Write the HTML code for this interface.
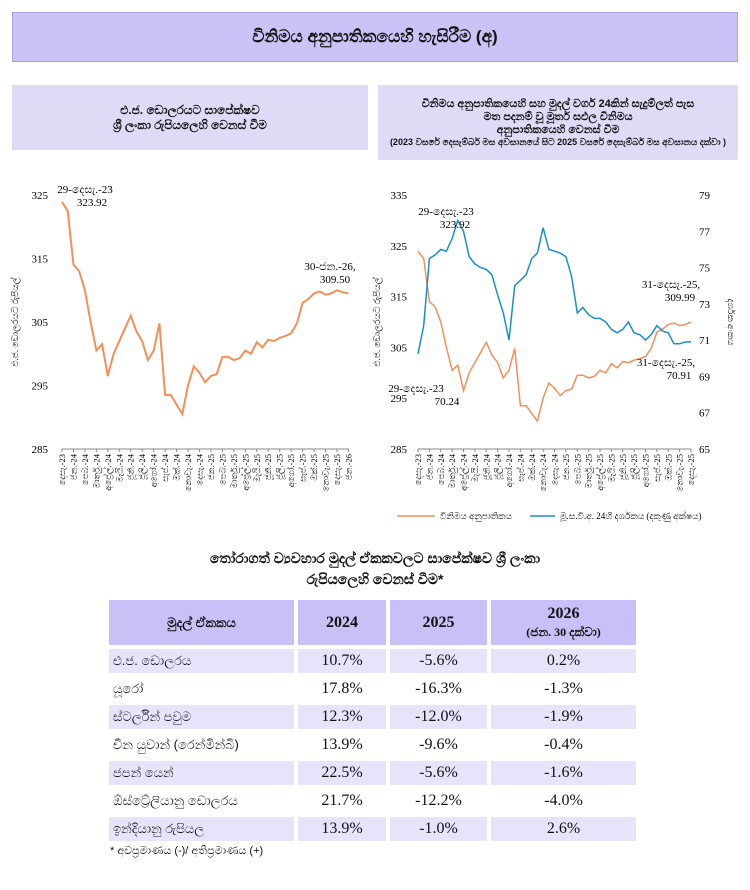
<!DOCTYPE html>
<html><head><meta charset="utf-8">
<style>
body{margin:0;width:750px;height:890px;background:#fff;font-family:"Liberation Serif","DejaVu Serif",serif;color:#111;position:relative;overflow:hidden}
.abs{position:absolute}
.banner{left:12px;top:12px;width:724px;height:48px;background:#c9c3f6;border:1px solid #a9a3dc;display:flex;align-items:center;justify-content:center;font-weight:bold;font-size:17px;font-family:"Liberation Sans","DejaVu Sans",sans-serif}
.hbox{background:#dddbf6;display:flex;flex-direction:column;align-items:center;justify-content:center;text-align:center;font-weight:bold;font-family:"Liberation Sans","DejaVu Sans",sans-serif}
table{border-collapse:separate;border-spacing:4px 4px;font-size:16px;table-layout:fixed}
td,th{padding:0 4px;box-sizing:border-box}
th{background:#c7c1f7;height:45px;font-size:16px}
tr.alt td{background:#e6e4fb}
td{height:24px;text-align:center}
td.n{text-align:left;font-family:"Liberation Sans","DejaVu Sans",sans-serif;font-size:13px}
svg text{font-family:"Liberation Serif","DejaVu Serif",serif}
</style></head><body>
<div class="abs banner">විනිමය අනුපාතිකයෙහි හැසිරීම (අ)</div>
<div class="abs hbox" style="left:12px;top:85px;width:356px;height:65px;font-size:12px"><div>එ.ජ. ඩොලරයට සාපේක්ෂව</div><div>ශ්‍රී ලංකා රුපියලෙහි වෙනස් වීම</div></div>
<div class="abs hbox" style="left:378px;top:85px;width:360px;height:75px;font-size:11px"><div>විනිමය අනුපාතිකයෙහි සහ මුදල් වර්ග 24කින් සැදුම්ලත් පැස</div><div>මත පදනම් වූ මූර්ත සඵල විනිමය</div><div>අනුපාතිකයෙහි වෙනස් වීම</div><div style="font-size:9px">(2023 වසරේ දෙසැම්බර් මස අවසානයේ සිට 2025 වසරේ දෙසැම්බර් මස අවසානය දක්වා )</div></div>

<svg id="chart" class="abs" style="left:0;top:160px" width="750" height="370"></svg>

<div class="abs" style="left:0;top:548px;width:750px;text-align:center;font-weight:bold;font-size:14px;line-height:21px;font-family:'Liberation Sans','DejaVu Sans',sans-serif">තෝරාගත් ව්‍යවහාර මුදල් ඒකකවලට සාපේක්ෂව ශ්‍රී ලංකා<br>රුපියලෙහි වෙනස් වීම*</div>
<table class="abs" style="left:105px;top:596px;width:535px">
<colgroup><col style="width:185px"><col style="width:88px"><col style="width:97px"><col style="width:145px"></colgroup>
<tr><th style="font-family:'Liberation Sans',sans-serif;font-size:13px">මුදල් ඒකකය</th><th>2024</th><th>2025</th><th>2026<br><span style="font-size:12px">(ජන. 30 දක්වා)</span></th></tr>
<tr class="alt"><td class="n">එ.ජ. ඩොලරය</td><td>10.7%</td><td>-5.6%</td><td>0.2%</td></tr>
<tr><td class="n">යූරෝ</td><td>17.8%</td><td>-16.3%</td><td>-1.3%</td></tr>
<tr class="alt"><td class="n">ස්ටර්ලින් පවුම</td><td>12.3%</td><td>-12.0%</td><td>-1.9%</td></tr>
<tr><td class="n">චීන යුවාන් (රෙන්මින්බි)</td><td>13.9%</td><td>-9.6%</td><td>-0.4%</td></tr>
<tr class="alt"><td class="n">ජපන් යෙන්</td><td>22.5%</td><td>-5.6%</td><td>-1.6%</td></tr>
<tr><td class="n">ඕස්ට්‍රේලියානු ඩොලරය</td><td>21.7%</td><td>-12.2%</td><td>-4.0%</td></tr>
<tr class="alt"><td class="n">ඉන්දියානු රුපියල</td><td>13.9%</td><td>-1.0%</td><td>2.6%</td></tr>
</table>
<div class="abs" style="left:110px;top:845px;font-size:11px;font-family:'Liberation Sans',sans-serif">* අවප්‍රමාණය (-)/ අතිප්‍රමාණය (+)</div>

<script>
const monthsA=["දෙසැ.-23","ජන.-24","පෙබ.-24","මාර්තු.-24","අප්‍රේල්.-24","මැයි.-24","ජූනි.-24","ජූලි.-24","අගෝ.-24","සැප්.-24","ඔක්.-24","නොවැ.-24","දෙසැ.-24","ජන.-25","පෙබ.-25","මාර්තු.-25","අප්‍රේල්.-25","මැයි.-25","ජූනි.-25","ජූලි.-25","අගෝ.-25","සැප්.-25","ඔක්.-25","නොවැ.-25","දෙසැ.-25","ජන.-26"];
const leftTicks=[285,295,305,315,325];
const rightTicksL=[285,295,305,315,325,335];
const rightTicksR=[65,67,69,71,73,75,77,79];
// half-month sampling from 29-Dec-23
const usdLkr=[323.9,322.5,314,313,310,305,300.5,301.5,296.5,300,302,304,306,303.5,302,299,300.5,304.8,293.5,293.5,292,290.5,295,298,297,295.5,296.5,296.8,299.5,299.5,299,299.3,300.5,300,301.8,301,302.2,302,302.5,302.8,303.2,304.8,308,308.6,309.5,309.8,309.3,309.5,309.99,309.7,309.5];
const reer=[70.24,71.8,75.5,75.7,76.0,75.9,76.6,77.6,77.0,75.6,75.2,75.0,74.9,74.6,73.5,72.5,71.0,74.0,74.3,74.6,75.5,75.8,77.2,76.0,75.9,75.8,75.6,74.5,72.5,72.8,72.4,72.2,72.2,72.0,71.6,71.4,71.6,72.0,71.4,71.3,71.0,71.3,71.8,71.5,71.4,70.8,70.8,70.9,70.91];
const ORANGE="#f0905a",BLUE="#1a8fc4";
const svg=document.getElementById('chart');const NS="http://www.w3.org/2000/svg";
const OY=160;
function el(t,a,txt){const e=document.createElementNS(NS,t);for(const k in a)e.setAttribute(k,a[k]);if(txt!=null)e.textContent=txt;svg.appendChild(e);return e;}
function lin(d0,d1,r0,r1){return v=>r0+(v-d0)*(r1-r0)/(d1-d0);}
// LEFT
const lx=lin(0,25.05,62,349),ly=lin(285,325,449-OY,195-OY);
let e=el('line',{x1:62,x2:349,y1:ly(285),y2:ly(285),stroke:'#888'});

leftTicks.forEach(v=>{const t=el('text',{x:48,y:ly(v)+4,'text-anchor':'end','font-size':11},v);});
monthsA.forEach((m,i)=>{const x=lx(i);el('line',{x1:x,x2:x,y1:ly(285),y2:ly(285)+3,stroke:'#888'});const t=el('text',{transform:`translate(${x+3},${ly(285)+5}) rotate(-90)`,'text-anchor':'end','font-size':8.5,'font-family':'Liberation Sans,sans-serif'},m);});
let p=el('path',{d:usdLkr.map((v,i)=>(i?'L':'M')+lx(i*0.5).toFixed(1)+','+ly(v).toFixed(1)).join(''),fill:'none',stroke:ORANGE,'stroke-width':2});

e=el('text',{transform:`translate(18,${ly(305)}) rotate(-90)`,'text-anchor':'middle','font-size':9,'font-family':'Liberation Sans,sans-serif'},'එ.ජ. ඩොලරයට රුපියල්');
el('text',{x:85,y:33,'text-anchor':'middle','font-size':11},'29-දෙසැ.-23');el('text',{x:92,y:46,'text-anchor':'middle','font-size':11},'323.92');
el('text',{x:330,y:110,'text-anchor':'middle','font-size':11},'30-ජන.-26,');el('text',{x:335,y:123,'text-anchor':'middle','font-size':11},'309.50');
// RIGHT
const rx=lin(0,24,418,691),ryl=lin(285,335,449-OY,195-OY),ryr=lin(65,79,449-OY,195-OY);
e=el('line',{x1:418,x2:691,y1:ryl(285),y2:ryl(285),stroke:'#888'});
rightTicksL.forEach(v=>{const t=el('text',{x:407,y:ryl(v)+4,'text-anchor':'end','font-size':11},v);});
rightTicksR.forEach(v=>{const t=el('text',{x:699,y:ryr(v)+4,'font-size':11},v);});
monthsA.slice(0,25).forEach((m,i)=>{const x=rx(i);el('line',{x1:x,x2:x,y1:ryl(285),y2:ryl(285)+3,stroke:'#888'});const t=el('text',{transform:`translate(${x+3},${ryl(285)+5}) rotate(-90)`,'text-anchor':'end','font-size':8.5,'font-family':'Liberation Sans,sans-serif'},m);});
p=el('path',{d:usdLkr.slice(0,49).map((v,i)=>(i?'L':'M')+rx(i*0.5).toFixed(1)+','+ryl(v).toFixed(1)).join(''),fill:'none',stroke:ORANGE,'stroke-width':1.5});

p=el('path',{d:reer.map((v,i)=>(i?'L':'M')+rx(i*0.5).toFixed(1)+','+ryr(v).toFixed(1)).join(''),fill:'none',stroke:BLUE,'stroke-width':1.5});

e=el('text',{transform:`translate(380,${ryl(310)}) rotate(-90)`,'text-anchor':'middle','font-size':9,'font-family':'Liberation Sans,sans-serif'},'එ.ජ. ඩොලරයට රුපියල්');
e=el('text',{transform:`translate(728,${ryr(72)}) rotate(90)`,'text-anchor':'middle','font-size':9,'font-family':'Liberation Sans,sans-serif'},'දර්ශක අංකය');
[['29-දෙසැ.-23',446,55],['323.92',455,68],['31-දෙසැ.-25,',671,128],['309.99',680,141],['29-දෙසැ.-23',416,232],['70.24',447,245],['31-දෙසැ.-25,',666,206],['70.91',679,219]].forEach(a=>el('text',{x:a[1],y:a[2],'text-anchor':'middle','font-size':11},a[0]));
el('line',{x1:397,x2:435,y1:356,y2:356,stroke:ORANGE,'stroke-width':1.5});
e=el('text',{x:440,y:359,'font-size':9,'font-family':'Liberation Sans,sans-serif'},'විනිමය අනුපාතිකය');
el('line',{x1:530,x2:555,y1:356,y2:356,stroke:BLUE,'stroke-width':1.5});
e=el('text',{x:560,y:359,'font-size':9,'font-family':'Liberation Sans,sans-serif'},'මූ.ස.වි.අ. 24හි දර්ශකය (දකුණු අක්ෂය)');
</script>
</body></html>
